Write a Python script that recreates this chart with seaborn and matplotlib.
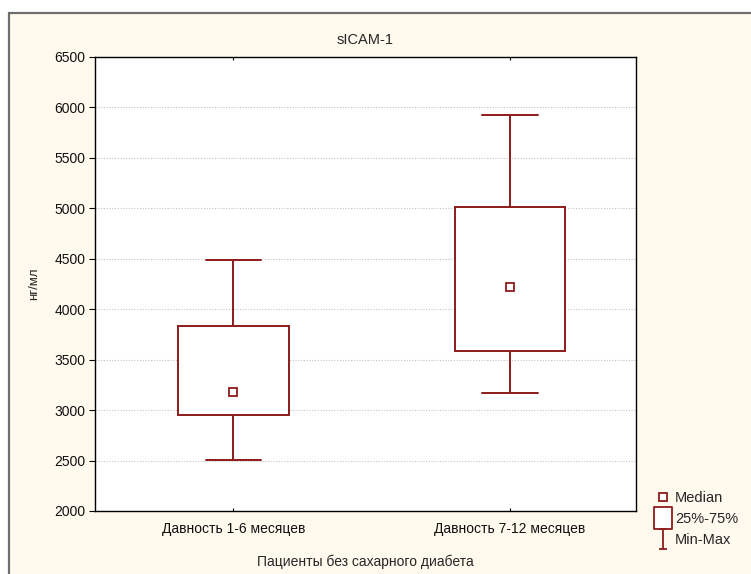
import numpy as np
import pandas as pd
import matplotlib
matplotlib.use("Agg")
import matplotlib.pyplot as plt
import seaborn as sns
from matplotlib.lines import Line2D
from matplotlib.patches import Rectangle
from matplotlib.path import Path

# ---- data ----
categories = ["Давность 1-6 месяцев", "Давность 7-12 месяцев"]
mins = [2510, 3165]
q1s = [2948, 3589]
medians = [3183, 4218]
q3s = [3834, 5012]
maxs = [4489, 5925]
title = "sICAM-1"
ylabel = "нг/мл"
xlabel = "Пациенты без сахарного диабета"
yticks = [2000, 2500, 3000, 3500, 4000, 4500, 5000, 5500, 6000, 6500]

# five sorted points per group -> percentiles reproduce min/q1/median/q3/max
rows = []
for c, a, b, m, d, e in zip(categories, mins, q1s, medians, q3s, maxs):
    for v in (a, b, m, d, e):
        rows.append({"group": c, "value": v})
df = pd.DataFrame(rows)

sns.set_style("white")
plt.rcParams["font.family"] = ["Liberation Sans", "DejaVu Sans"]

RED = "#8e1b1b"
fig = plt.figure(figsize=(7.51, 5.74), dpi=100, facecolor="white")
bg = Rectangle((9 / 751, -0.01), 1.0, (574 - 13) / 574 + 0.01,
               transform=fig.transFigure, facecolor="#fff9ee",
               edgecolor="#6e6e6e", linewidth=1.6, zorder=-10)
fig.patches.append(bg)

ax = fig.add_axes([95 / 751, 1 - 511 / 574, (636 - 95) / 751, (511 - 57) / 574])
ax.set_facecolor("white")

sns.boxplot(data=df, x="group", y="value", order=categories, ax=ax,
            whis=(0, 100), width=0.4, color="white", linecolor=RED,
            linewidth=1.4, showfliers=False,
            medianprops={"visible": False},
            boxprops={"facecolor": "white", "edgecolor": RED, "zorder": 3},
            whiskerprops={"color": RED, "zorder": 3},
            capprops={"color": RED, "zorder": 3})

xpos = np.arange(len(categories))
ax.plot(xpos, medians, linestyle="none", marker="s", markersize=5.5,
        markerfacecolor="white", markeredgecolor=RED, markeredgewidth=1.3,
        zorder=5)

ax.set_ylim(2000, 6500)
ax.set_yticks(yticks)
ax.set_xlim(-0.5, 1.455)
ax.yaxis.grid(True, color="#c4c4c4", linestyle=(0, (1, 1.5)), linewidth=0.8)
ax.set_axisbelow(True)

for s in ax.spines.values():
    s.set_visible(True)
    s.set_color("black")
    s.set_linewidth(1.0)

ax.tick_params(axis="y", direction="out", length=4, width=0.8, left=True,
               labelsize=10, pad=3, colors="black")
ax.tick_params(axis="x", direction="in", length=2.5, width=0.8, bottom=True,
               top=True, labelsize=10, pad=8, colors="black")
for lab in ax.get_yticklabels() + ax.get_xticklabels():
    lab.set_color("#111111")

ax.set_title(title, fontsize=10.5, pad=9)
ax.set_xlabel(xlabel, fontsize=10, labelpad=13)
ax.set_ylabel(ylabel, fontsize=9.5, labelpad=10)

# legend
cap_path = Path([(-0.35, 1), (0.35, 1), (0, 1), (0, -1), (-0.35, -1), (0.35, -1)],
                [Path.MOVETO, Path.LINETO, Path.MOVETO, Path.LINETO,
                 Path.MOVETO, Path.LINETO])
box_path = Path([(-0.82, -1), (0.82, -1), (0.82, 1), (-0.82, 1), (-0.82, -1)],
                [Path.MOVETO, Path.LINETO, Path.LINETO, Path.LINETO,
                 Path.CLOSEPOLY])
handles = [
    Line2D([], [], linestyle="none", marker="s", markersize=5.5,
           markerfacecolor="white", markeredgecolor=RED, markeredgewidth=1.3),
    Line2D([], [], linestyle="none", marker=box_path, markersize=16,
           markerfacecolor="white", markeredgecolor=RED, markeredgewidth=1.3),
    Line2D([], [], linestyle="none", marker=cap_path, markersize=15,
           markerfacecolor="none", markeredgecolor=RED, markeredgewidth=1.3),
]
leg = fig.legend(handles, ["Median", "25%-75%", "Min-Max"],
                 loc="upper left", bbox_to_anchor=(650 / 751, 1 - 485 / 574),
                 frameon=False, fontsize=10.5, handlelength=1.0,
                 handletextpad=0.3, labelspacing=0.5, borderaxespad=0)

fig.savefig("out.png", dpi=100, facecolor="white")
